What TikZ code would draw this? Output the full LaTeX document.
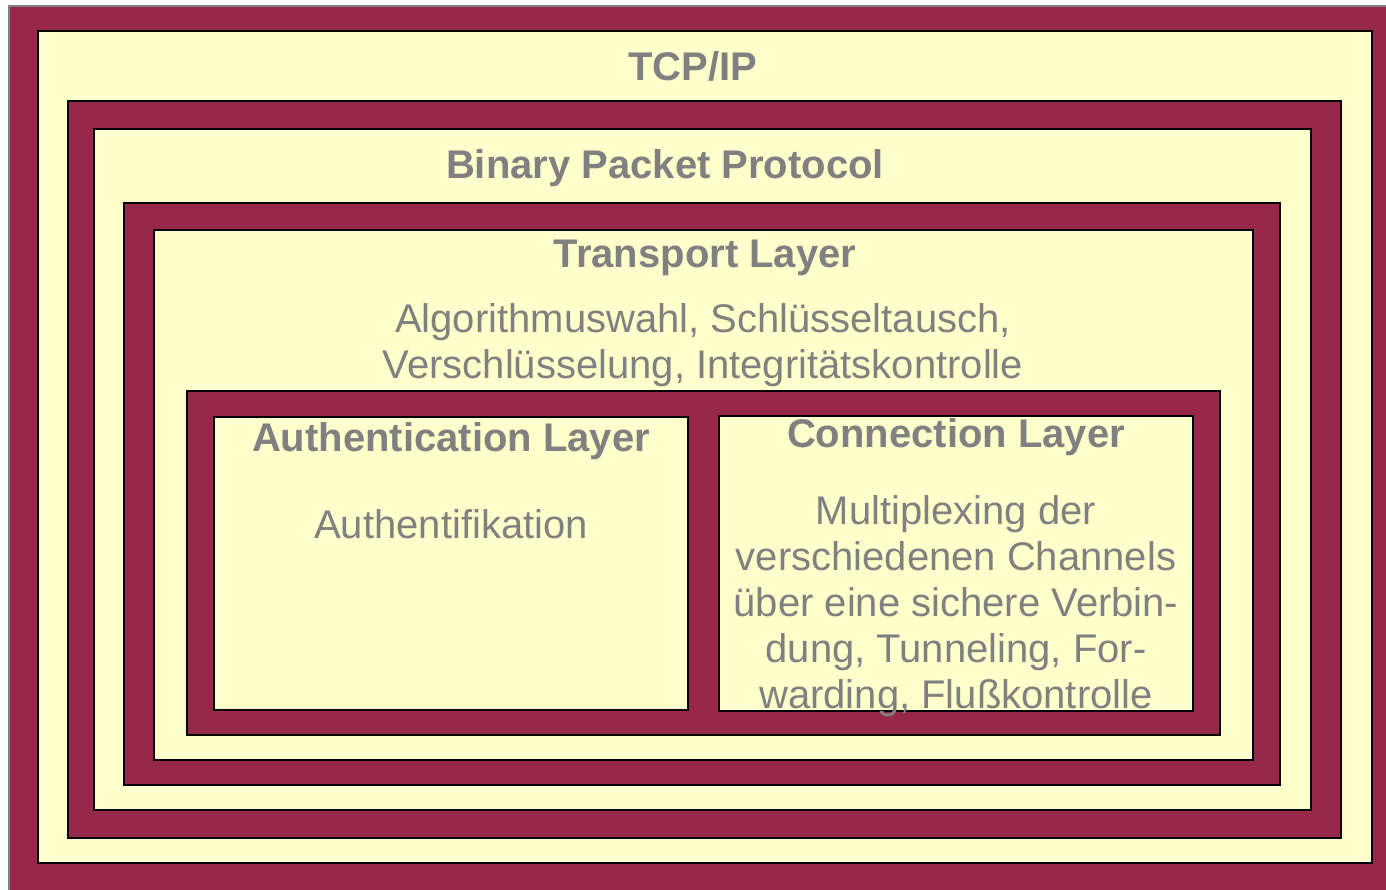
\documentclass[tikz,border=0pt]{standalone}
\usepackage{fontspec}
\setmainfont{Liberation Sans}
\definecolor{wine}{HTML}{98284A}
\definecolor{cream}{HTML}{FFFFCC}
\definecolor{txtgray}{HTML}{808080}
\tikzset{
  winebox/.style={fill=wine, draw=black, line width=1.2pt},
  creambox/.style={fill=cream, draw=black, line width=1.2pt},
  headline/.style={text=txtgray, font=\fontsize{40}{46}\selectfont\bfseries, inner sep=0pt, anchor=base},
  % multi-line blocks: the base anchor sits on the last line
  bodytext/.style={text=txtgray, font=\fontsize{40}{46}\selectfont, inner sep=0pt, align=center, anchor=base},
}
\begin{document}
\begin{tikzpicture}[x=1pt, y=-1pt]
  \useasboundingbox (0,0) rectangle (1386,889);
  \fill[white] (0,0) rectangle (1386,889);
  \begin{scope}
    \clip (0,0) rectangle (1386,889);
    % outermost frame runs off the right and bottom edges
    \draw[fill=wine, draw=gray, line width=1.5pt] (9,6) rectangle (1400,900);
  \end{scope}
  % nested layers
  \draw[creambox] (38,31)   rectangle (1372,863);
  \draw[winebox]  (68,101)  rectangle (1341,838);
  \draw[creambox] (94,129)  rectangle (1311,810);
  \draw[winebox]  (124,203) rectangle (1280,785);
  \draw[creambox] (154,230) rectangle (1253,760);
  \draw[winebox]  (187,391) rectangle (1220,735);
  \draw[creambox] (214,417) rectangle (688,710);
  \draw[creambox] (719,416) rectangle (1193,711);

  % labels
  \node[headline] (tcpip) at (693,80) {TCP/IP};
  \node[headline] (bpp) at (665,178) {Binary Packet Protocol};
  \node[headline] (transport) at (705,267) {Transport Layer};
  \node[bodytext] (transporttext) at (703,378)
    {Algorithmuswahl, Schlüsseltausch,\\ Verschlüsselung, Integritätskontrolle};
  \node[headline] (auth) at (451,451) {Authentication Layer};
  \node[bodytext] (authtext) at (451,538) {Authentifikation};
  \node[headline] (conn) at (956,447) {Connection Layer};
  \node[bodytext] (conntext) at (956,708)
    {Multiplexing der\\ verschiedenen Channels\\ über eine sichere Verbin-\\ dung, Tunneling, For-\\ warding, Flußkontrolle};
\end{tikzpicture}
\end{document}
